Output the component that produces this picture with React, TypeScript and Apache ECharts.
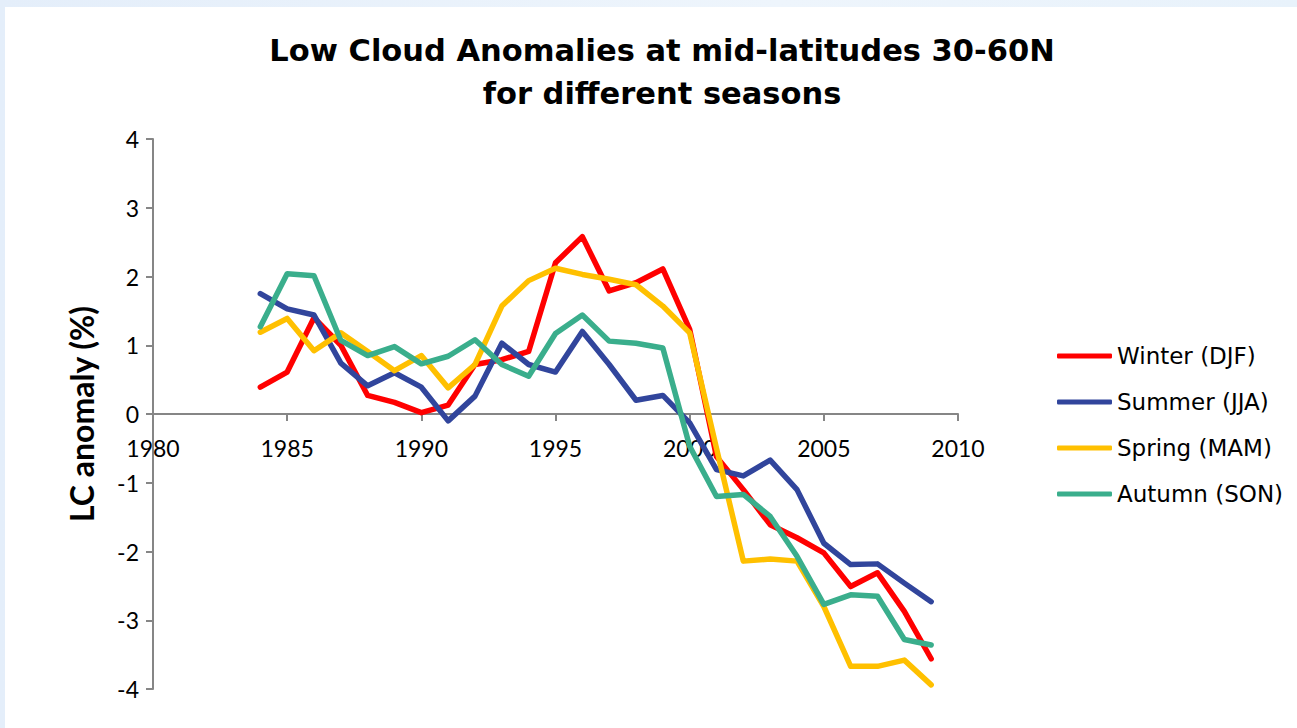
import React, { useEffect, useRef } from "react";
import * as echarts from "echarts";

const years = [1984, 1985, 1986, 1987, 1988, 1989, 1990, 1991, 1992, 1993, 1994, 1995, 1996, 1997, 1998, 1999, 2000, 2001, 2002, 2003, 2004, 2005, 2006, 2007, 2008, 2009];

const winter = [0.39, 0.61, 1.40, 1.00, 0.27, 0.17, 0.02, 0.13, 0.72, 0.79, 0.91, 2.20, 2.58, 1.79, 1.91, 2.11, 1.23, -0.62, -1.10, -1.61, -1.80, -2.02, -2.51, -2.31, -2.87, -3.56];
const summer = [1.75, 1.53, 1.44, 0.74, 0.41, 0.60, 0.39, -0.10, 0.26, 1.03, 0.72, 0.61, 1.20, 0.72, 0.20, 0.27, -0.13, -0.81, -0.90, -0.67, -1.10, -1.88, -2.19, -2.18, -2.46, -2.73];
const spring = [1.19, 1.39, 0.92, 1.18, 0.91, 0.63, 0.85, 0.38, 0.72, 1.57, 1.94, 2.12, 2.03, 1.96, 1.88, 1.57, 1.18, -0.50, -2.14, -2.11, -2.14, -2.80, -3.67, -3.67, -3.58, -3.94];
const autumn = [1.27, 2.04, 2.01, 1.07, 0.85, 0.98, 0.73, 0.84, 1.08, 0.72, 0.55, 1.17, 1.44, 1.06, 1.03, 0.96, -0.47, -1.20, -1.17, -1.49, -2.07, -2.77, -2.63, -2.65, -3.28, -3.36];

const seriesNames = ["Winter (DJF)", "Summer (JJA)", "Spring (MAM)", "Autumn (SON)"];
const seriesValues = [winter, summer, spring, autumn];
const seriesColors = ["#ff0000", "#31459c", "#ffc000", "#3aae8c"];

const titleLines = ["Low Cloud Anomalies at mid-latitudes 30-60N", "for different seasons"];
const yAxisName = "LC anomaly (%)";

export default function App() {
  const ref = useRef<HTMLDivElement>(null);
  useEffect(() => {
    if (!ref.current) return;
    const chart = echarts.init(ref.current, null, { renderer: "svg" });
    const axisColor = "#868686";
    chart.setOption({
      animation: false,
      backgroundColor: "transparent",
      title: {
        text: titleLines.join("\n"),
        left: 657,
        top: 24,
        textAlign: "center",
        textStyle: {
          fontFamily: "DejaVu Sans",
          fontWeight: "bold",
          fontSize: 30.5,
          lineHeight: 43,
          color: "#000",
        },
      },
      legend: {
        orient: "vertical",
        left: 1052,
        top: 339,
        itemWidth: 55,
        itemHeight: 5,
        itemGap: 22,
        icon: "roundRect",
        data: seriesNames,
        textStyle: {
          fontFamily: "DejaVu Sans",
          fontSize: 23,
          lineHeight: 24,
          color: "#000",
        },
      },
      grid: { left: 153, top: 139, width: 805, height: 550, containLabel: false },
      xAxis: {
        type: "value",
        min: 1980,
        max: 2010,
        interval: 5,
        offset: -275,
        axisLine: { onZero: false, lineStyle: { color: axisColor, width: 2 } },
        axisTick: { show: true, length: 7, lineStyle: { color: axisColor, width: 2 } },
        axisLabel: {
          formatter: (v: number) => String(v),
          fontFamily: "Lato",
          fontSize: 23,
          color: "#000",
          margin: 22,
        },
        splitLine: { show: false },
      },
      yAxis: {
        type: "value",
        min: -4,
        max: 4,
        interval: 1,
        name: yAxisName,
        nameLocation: "middle",
        nameRotate: 90,
        nameGap: 56,
        nameTextStyle: { fontFamily: "Lato", fontWeight: "bold", fontSize: 32, color: "#000" },
        axisLine: { show: true, onZero: false, lineStyle: { color: axisColor, width: 2 } },
        axisTick: { show: true, length: 7, lineStyle: { color: axisColor, width: 2 } },
        axisLabel: { fontFamily: "Lato", fontSize: 23, color: "#000", margin: 14 },
        splitLine: { show: false },
      },
      series: seriesNames.map((name, i) => ({
        name,
        type: "line",
        data: years.map((y, j) => [y, seriesValues[i][j]]),
        showSymbol: false,
        symbol: "none",
        color: seriesColors[i],
        lineStyle: { width: 5.5, color: seriesColors[i], cap: "round", join: "round" },
      })),
    });
    return () => chart.dispose();
  }, []);

  return (
    <div
      style={{
        position: "absolute",
        left: 0,
        top: 0,
        width: 1297,
        height: 728,
        background: "linear-gradient(90deg, #e4eefa 0%, #eef5fc 60%, #e8f2fb 100%)",
        overflow: "hidden",
      }}
    >
      <div style={{ position: "absolute", left: 5, top: 7, right: 0, bottom: 0, background: "#ffffff" }} />
      <div ref={ref} style={{ position: "absolute", left: 0, top: 0, width: 1297, height: 728 }} />
    </div>
  );
}
